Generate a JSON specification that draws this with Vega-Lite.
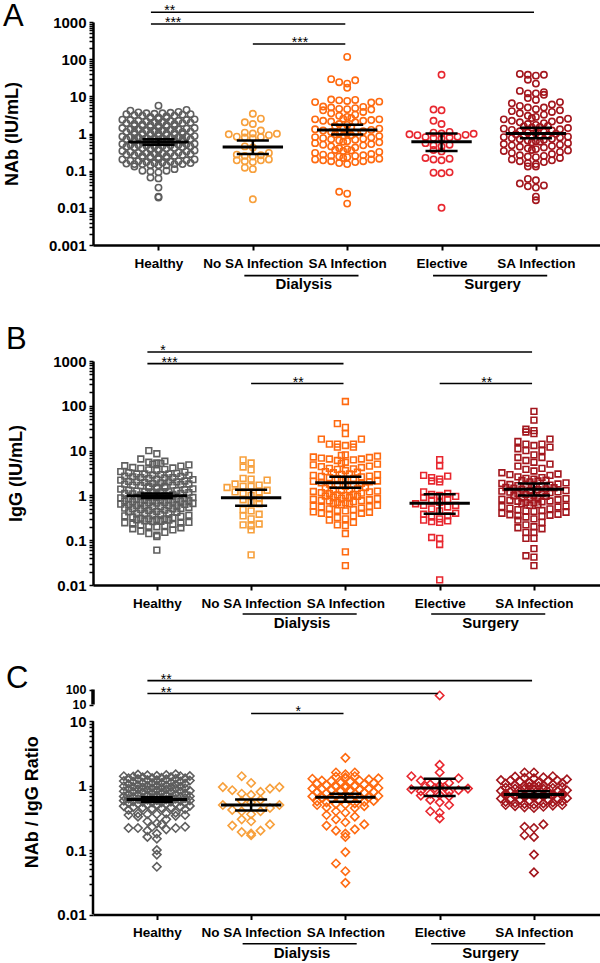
{
"$schema": "https://vega.github.io/schema/vega-lite/v6.json",
"padding": {"left": 2, "top": 1, "right": 0, "bottom": 0},
"spacing": 32,
"background": "white",
"datasets": {
"grp": [{"lab": "Dialysis", "a": 1, "b": 2}, {"lab": "Surgery", "a": 3, "b": 4}],
"sigA": [{"x1": 0, "x2": 4, "y": 1824, "s": "**"}, {"x1": 0, "x2": 2, "y": 884, "s": "***"}, {"x1": 1, "x2": 2, "y": 256, "s": "***"}],
"sigB": [{"x1": 0, "x2": 4, "y": 1587, "s": "*"}, {"x1": 0, "x2": 2, "y": 875, "s": "***"}, {"x1": 1, "x2": 2, "y": 314, "s": "**"}, {"x1": 3, "x2": 4, "y": 314, "s": "**"}],
"sigC": [{"x1": 0, "x2": 4, "y": 1.63, "s": "**"}, {"x1": 0, "x2": 3, "y": 1.43, "s": "**"}, {"x1": 1, "x2": 2, "y": 1.12, "s": "*"}],
"ebA": [{"g": 0, "m": 0.59, "lo": 0.5, "hi": 0.7}, {"g": 1, "m": 0.43, "lo": 0.28, "hi": 0.65}, {"g": 2, "m": 1.25, "lo": 0.94, "hi": 1.71}, {"g": 3, "m": 0.6, "lo": 0.34, "hi": 1.0}, {"g": 4, "m": 1.0, "lo": 0.74, "hi": 1.42}],
"ebB": [{"g": 0, "m": 0.98, "lo": 0.88, "hi": 1.1}, {"g": 1, "m": 0.89, "lo": 0.59, "hi": 1.33}, {"g": 2, "m": 1.92, "lo": 1.48, "hi": 2.6}, {"g": 3, "m": 0.67, "lo": 0.39, "hi": 1.06}, {"g": 4, "m": 1.37, "lo": 1.0, "hi": 1.85}],
"ebC": [{"g": 0, "m": 0.61, "lo": 0.56, "hi": 0.66}, {"g": 1, "m": 0.5, "lo": 0.41, "hi": 0.61}, {"g": 2, "m": 0.66, "lo": 0.56, "hi": 0.75}, {"g": 3, "m": 0.92, "lo": 0.69, "hi": 1.28}, {"g": 4, "m": 0.73, "lo": 0.66, "hi": 0.82}],
"ptsA": [
{"g":0,"v":5.6},{"g":0,"v":4.3},{"g":0,"v":4.1},{"g":0,"v":3.8},{"g":0,"v":3.7},{"g":0,"v":3.6},{"g":0,"v":3.5},{"g":0,"v":3.5},{"g":0,"v":3.4},{"g":0,"v":3.3},{"g":0,"v":3.3},{"g":0,"v":3.2},{"g":0,"v":3.1},{"g":0,"v":3.0},{"g":0,"v":3.0},{"g":0,"v":2.8},{"g":0,"v":2.7},{"g":0,"v":2.6},{"g":0,"v":2.5},{"g":0,"v":2.5},{"g":0,"v":2.4},{"g":0,"v":2.3},{"g":0,"v":2.3},{"g":0,"v":2.2},{"g":0,"v":2.1},{"g":0,"v":2.0},{"g":0,"v":2.0},{"g":0,"v":1.9},{"g":0,"v":1.8},{"g":0,"v":1.8},{"g":0,"v":1.7},{"g":0,"v":1.7},{"g":0,"v":1.6},{"g":0,"v":1.6},{"g":0,"v":1.5},{"g":0,"v":1.5},{"g":0,"v":1.4},{"g":0,"v":1.4},{"g":0,"v":1.35},{"g":0,"v":1.3},{"g":0,"v":1.3},{"g":0,"v":1.2},{"g":0,"v":1.2},{"g":0,"v":1.15},{"g":0,"v":1.1},{"g":0,"v":1.1},{"g":0,"v":1.05},{"g":0,"v":1.0},{"g":0,"v":1.0},{"g":0,"v":0.95},{"g":0,"v":0.92},{"g":0,"v":0.9},{"g":0,"v":0.88},{"g":0,"v":0.85},{"g":0,"v":0.82},{"g":0,"v":0.8},{"g":0,"v":0.78},{"g":0,"v":0.75},{"g":0,"v":0.72},{"g":0,"v":0.7},{"g":0,"v":0.68},{"g":0,"v":0.66},{"g":0,"v":0.64},{"g":0,"v":0.62},{"g":0,"v":0.6},{"g":0,"v":0.58},{"g":0,"v":0.56},{"g":0,"v":0.55},{"g":0,"v":0.54},{"g":0,"v":0.52},{"g":0,"v":0.5},{"g":0,"v":0.5},{"g":0,"v":0.48},{"g":0,"v":0.46},{"g":0,"v":0.45},{"g":0,"v":0.44},{"g":0,"v":0.42},{"g":0,"v":0.4},{"g":0,"v":0.4},{"g":0,"v":0.38},{"g":0,"v":0.36},{"g":0,"v":0.35},{"g":0,"v":0.34},{"g":0,"v":0.33},{"g":0,"v":0.32},{"g":0,"v":0.3},{"g":0,"v":0.3},{"g":0,"v":0.29},{"g":0,"v":0.28},{"g":0,"v":0.27},{"g":0,"v":0.26},{"g":0,"v":0.25},{"g":0,"v":0.24},{"g":0,"v":0.23},{"g":0,"v":0.22},{"g":0,"v":0.21},{"g":0,"v":0.2},{"g":0,"v":0.2},{"g":0,"v":0.19},{"g":0,"v":0.18},{"g":0,"v":0.18},{"g":0,"v":0.17},{"g":0,"v":0.16},{"g":0,"v":0.15},{"g":0,"v":0.15},{"g":0,"v":0.15},{"g":0,"v":0.14},{"g":0,"v":0.14},{"g":0,"v":0.14},{"g":0,"v":0.13},{"g":0,"v":0.16},{"g":0,"v":0.15},{"g":0,"v":0.1},{"g":0,"v":0.095},{"g":0,"v":0.09},{"g":0,"v":0.1},{"g":0,"v":0.11},{"g":0,"v":0.065},{"g":0,"v":0.062},{"g":0,"v":0.035},{"g":0,"v":0.02},{"g":0,"v":0.019},
{"g":0,"v":2.9},{"g":0,"v":2.65},{"g":0,"v":2.35},{"g":0,"v":2.15},{"g":0,"v":1.95},{"g":0,"v":1.75},{"g":0,"v":1.65},{"g":0,"v":1.55},{"g":0,"v":1.45},{"g":0,"v":1.25},{"g":0,"v":1.12},{"g":0,"v":1.08},{"g":0,"v":1.02},{"g":0,"v":0.97},{"g":0,"v":0.93},{"g":0,"v":0.87},{"g":0,"v":0.83},{"g":0,"v":0.77},{"g":0,"v":0.73},{"g":0,"v":0.69},{"g":0,"v":0.65},{"g":0,"v":0.61},{"g":0,"v":0.57},{"g":0,"v":0.53},{"g":0,"v":0.51},{"g":0,"v":0.49},{"g":0,"v":0.47},{"g":0,"v":0.43},{"g":0,"v":0.41},{"g":0,"v":0.39},{"g":0,"v":0.37},{"g":0,"v":0.31},{"g":0,"v":0.285},{"g":0,"v":0.265},{"g":0,"v":0.245},{"g":0,"v":0.225},{"g":0,"v":0.205},{"g":0,"v":0.185},{"g":0,"v":0.175},{"g":0,"v":0.165},{"g":0,"v":0.155},{"g":0,"v":1.9},{"g":0,"v":1.3},{"g":0,"v":0.9},{"g":0,"v":0.7},{"g":0,"v":0.6},{"g":0,"v":0.45},{"g":0,"v":0.35},{"g":0,"v":0.25},{"g":0,"v":0.22},{"g":0,"v":2.2},{"g":0,"v":1.6},{"g":0,"v":1.0},{"g":0,"v":0.8},{"g":0,"v":0.55},{"g":0,"v":0.3},
{"g":1,"v":3.4},{"g":1,"v":2.5},{"g":1,"v":2.0},{"g":1,"v":1.8},{"g":1,"v":1.2},{"g":1,"v":1.05},{"g":1,"v":1.0},{"g":1,"v":0.98},{"g":1,"v":0.95},{"g":1,"v":0.9},{"g":1,"v":0.82},{"g":1,"v":0.8},{"g":1,"v":0.78},{"g":1,"v":0.75},{"g":1,"v":0.45},{"g":1,"v":0.42},{"g":1,"v":0.3},{"g":1,"v":0.27},{"g":1,"v":0.26},{"g":1,"v":0.25},{"g":1,"v":0.24},{"g":1,"v":0.2},{"g":1,"v":0.19},{"g":1,"v":0.19},{"g":1,"v":0.18},{"g":1,"v":0.17},{"g":1,"v":0.12},{"g":1,"v":0.11},{"g":1,"v":0.017},
{"g":2,"v":115},{"g":2,"v":29},{"g":2,"v":27},{"g":2,"v":24},{"g":2,"v":22},{"g":2,"v":17},{"g":2,"v":8.2},{"g":2,"v":8},{"g":2,"v":7.8},{"g":2,"v":7.5},{"g":2,"v":7.2},{"g":2,"v":7},{"g":2,"v":6.8},{"g":2,"v":5.3},{"g":2,"v":5.2},{"g":2,"v":5},{"g":2,"v":4.8},{"g":2,"v":4.6},{"g":2,"v":4.5},{"g":2,"v":4.4},{"g":2,"v":4.2},{"g":2,"v":3.8},{"g":2,"v":3.5},{"g":2,"v":3.2},{"g":2,"v":3},{"g":2,"v":2.8},{"g":2,"v":2.6},{"g":2,"v":2.5},{"g":2,"v":2.4},{"g":2,"v":2.4},{"g":2,"v":2.3},{"g":2,"v":2.2},{"g":2,"v":2.2},{"g":2,"v":2.1},{"g":2,"v":2},{"g":2,"v":1.8},{"g":2,"v":1.7},{"g":2,"v":1.6},{"g":2,"v":1.5},{"g":2,"v":1.4},{"g":2,"v":1.35},{"g":2,"v":1.3},{"g":2,"v":1.25},{"g":2,"v":1.2},{"g":2,"v":1.15},{"g":2,"v":1.1},{"g":2,"v":1.05},{"g":2,"v":1},{"g":2,"v":1},{"g":2,"v":0.95},{"g":2,"v":0.9},{"g":2,"v":0.88},{"g":2,"v":0.85},{"g":2,"v":0.8},{"g":2,"v":0.78},{"g":2,"v":0.75},{"g":2,"v":0.72},{"g":2,"v":0.7},{"g":2,"v":0.68},{"g":2,"v":0.65},{"g":2,"v":0.62},{"g":2,"v":0.6},{"g":2,"v":0.58},{"g":2,"v":0.55},{"g":2,"v":0.52},{"g":2,"v":0.5},{"g":2,"v":0.48},{"g":2,"v":0.45},{"g":2,"v":0.42},{"g":2,"v":0.4},{"g":2,"v":0.38},{"g":2,"v":0.36},{"g":2,"v":0.35},{"g":2,"v":0.34},{"g":2,"v":0.32},{"g":2,"v":0.3},{"g":2,"v":0.28},{"g":2,"v":0.27},{"g":2,"v":0.26},{"g":2,"v":0.25},{"g":2,"v":0.25},{"g":2,"v":0.24},{"g":2,"v":0.23},{"g":2,"v":0.22},{"g":2,"v":0.21},{"g":2,"v":0.2},{"g":2,"v":0.2},{"g":2,"v":0.19},{"g":2,"v":0.18},{"g":2,"v":0.18},{"g":2,"v":0.17},{"g":2,"v":0.16},{"g":2,"v":0.15},{"g":2,"v":0.027},{"g":2,"v":0.024},{"g":2,"v":0.013},
{"g":3,"v":38},{"g":3,"v":4.4},{"g":3,"v":4.2},{"g":3,"v":2.2},{"g":3,"v":1.8},{"g":3,"v":1.1},{"g":3,"v":1.05},{"g":3,"v":1},{"g":3,"v":0.98},{"g":3,"v":0.95},{"g":3,"v":0.92},{"g":3,"v":0.9},{"g":3,"v":0.82},{"g":3,"v":0.8},{"g":3,"v":0.78},{"g":3,"v":0.76},{"g":3,"v":0.75},{"g":3,"v":0.55},{"g":3,"v":0.5},{"g":3,"v":0.48},{"g":3,"v":0.45},{"g":3,"v":0.36},{"g":3,"v":0.33},{"g":3,"v":0.22},{"g":3,"v":0.21},{"g":3,"v":0.2},{"g":3,"v":0.19},{"g":3,"v":0.09},{"g":3,"v":0.088},{"g":3,"v":0.085},{"g":3,"v":0.01},
{"g":4,"v":40},{"g":4,"v":38},{"g":4,"v":38},{"g":4,"v":36},{"g":4,"v":28},{"g":4,"v":22},{"g":4,"v":14},{"g":4,"v":13},{"g":4,"v":12},{"g":4,"v":12},{"g":4,"v":11},{"g":4,"v":9},{"g":4,"v":8},{"g":4,"v":7},{"g":4,"v":6.5},{"g":4,"v":6},{"g":4,"v":5.5},{"g":4,"v":5},{"g":4,"v":5},{"g":4,"v":4.5},{"g":4,"v":4.2},{"g":4,"v":4},{"g":4,"v":3.8},{"g":4,"v":3.5},{"g":4,"v":3.2},{"g":4,"v":3},{"g":4,"v":2.8},{"g":4,"v":2.6},{"g":4,"v":2.5},{"g":4,"v":2.4},{"g":4,"v":2.3},{"g":4,"v":2.2},{"g":4,"v":2.1},{"g":4,"v":2},{"g":4,"v":1.9},{"g":4,"v":1.8},{"g":4,"v":1.7},{"g":4,"v":1.6},{"g":4,"v":1.55},{"g":4,"v":1.5},{"g":4,"v":1.45},{"g":4,"v":1.4},{"g":4,"v":1.35},{"g":4,"v":1.3},{"g":4,"v":1.25},{"g":4,"v":1.2},{"g":4,"v":1.15},{"g":4,"v":1.1},{"g":4,"v":1.05},{"g":4,"v":1},{"g":4,"v":0.98},{"g":4,"v":0.95},{"g":4,"v":0.92},{"g":4,"v":0.9},{"g":4,"v":0.88},{"g":4,"v":0.85},{"g":4,"v":0.82},{"g":4,"v":0.8},{"g":4,"v":0.78},{"g":4,"v":0.75},{"g":4,"v":0.72},{"g":4,"v":0.7},{"g":4,"v":0.68},{"g":4,"v":0.65},{"g":4,"v":0.62},{"g":4,"v":0.6},{"g":4,"v":0.58},{"g":4,"v":0.55},{"g":4,"v":0.52},{"g":4,"v":0.5},{"g":4,"v":0.48},{"g":4,"v":0.46},{"g":4,"v":0.44},{"g":4,"v":0.42},{"g":4,"v":0.4},{"g":4,"v":0.38},{"g":4,"v":0.36},{"g":4,"v":0.35},{"g":4,"v":0.34},{"g":4,"v":0.32},{"g":4,"v":0.3},{"g":4,"v":0.28},{"g":4,"v":0.26},{"g":4,"v":0.25},{"g":4,"v":0.24},{"g":4,"v":0.23},{"g":4,"v":0.22},{"g":4,"v":0.2},{"g":4,"v":0.19},{"g":4,"v":0.18},{"g":4,"v":0.17},{"g":4,"v":0.16},{"g":4,"v":0.15},{"g":4,"v":0.13},{"g":4,"v":0.13},{"g":4,"v":0.06},{"g":4,"v":0.055},{"g":4,"v":0.045},{"g":4,"v":0.04},{"g":4,"v":0.038},{"g":4,"v":0.035},{"g":4,"v":0.02},{"g":4,"v":0.016}
],
"ptsB": [
{"g":0,"v":10},{"g":0,"v":8.5},{"g":0,"v":6.5},{"g":0,"v":5.8},{"g":0,"v":5.5},{"g":0,"v":5.3},{"g":0,"v":5.2},{"g":0,"v":5},{"g":0,"v":4.8},{"g":0,"v":4.5},{"g":0,"v":4.2},{"g":0,"v":4},{"g":0,"v":3.8},{"g":0,"v":3.6},{"g":0,"v":3.4},{"g":0,"v":3.2},{"g":0,"v":3},{"g":0,"v":3},{"g":0,"v":2.9},{"g":0,"v":2.8},{"g":0,"v":2.7},{"g":0,"v":2.6},{"g":0,"v":2.5},{"g":0,"v":2.4},{"g":0,"v":2.3},{"g":0,"v":2.2},{"g":0,"v":2.1},{"g":0,"v":2},{"g":0,"v":2},{"g":0,"v":1.9},{"g":0,"v":1.85},{"g":0,"v":1.8},{"g":0,"v":1.75},{"g":0,"v":1.7},{"g":0,"v":1.65},{"g":0,"v":1.6},{"g":0,"v":1.55},{"g":0,"v":1.5},{"g":0,"v":1.45},{"g":0,"v":1.4},{"g":0,"v":1.35},{"g":0,"v":1.3},{"g":0,"v":1.25},{"g":0,"v":1.2},{"g":0,"v":1.2},{"g":0,"v":1.15},{"g":0,"v":1.1},{"g":0,"v":1.05},{"g":0,"v":1},{"g":0,"v":1},{"g":0,"v":0.98},{"g":0,"v":0.95},{"g":0,"v":0.92},{"g":0,"v":0.9},{"g":0,"v":0.88},{"g":0,"v":0.85},{"g":0,"v":0.82},{"g":0,"v":0.8},{"g":0,"v":0.78},{"g":0,"v":0.76},{"g":0,"v":0.74},{"g":0,"v":0.72},{"g":0,"v":0.7},{"g":0,"v":0.68},{"g":0,"v":0.66},{"g":0,"v":0.64},{"g":0,"v":0.62},{"g":0,"v":0.6},{"g":0,"v":0.58},{"g":0,"v":0.56},{"g":0,"v":0.54},{"g":0,"v":0.52},{"g":0,"v":0.5},{"g":0,"v":0.48},{"g":0,"v":0.46},{"g":0,"v":0.44},{"g":0,"v":0.42},{"g":0,"v":0.4},{"g":0,"v":0.38},{"g":0,"v":0.36},{"g":0,"v":0.35},{"g":0,"v":0.34},{"g":0,"v":0.33},{"g":0,"v":0.32},{"g":0,"v":0.3},{"g":0,"v":0.29},{"g":0,"v":0.28},{"g":0,"v":0.27},{"g":0,"v":0.26},{"g":0,"v":0.25},{"g":0,"v":0.24},{"g":0,"v":0.23},{"g":0,"v":0.22},{"g":0,"v":0.21},{"g":0,"v":0.2},{"g":0,"v":0.19},{"g":0,"v":0.18},{"g":0,"v":0.17},{"g":0,"v":0.16},{"g":0,"v":0.15},{"g":0,"v":0.14},{"g":0,"v":0.13},{"g":0,"v":0.12},{"g":0,"v":0.06},
{"g":0,"v":4.6},{"g":0,"v":4.1},{"g":0,"v":3.7},{"g":0,"v":3.3},{"g":0,"v":3.1},{"g":0,"v":2.85},{"g":0,"v":2.65},{"g":0,"v":2.45},{"g":0,"v":2.25},{"g":0,"v":2.05},{"g":0,"v":1.95},{"g":0,"v":1.78},{"g":0,"v":1.62},{"g":0,"v":1.48},{"g":0,"v":1.38},{"g":0,"v":1.28},{"g":0,"v":1.18},{"g":0,"v":1.08},{"g":0,"v":1.02},{"g":0,"v":0.96},{"g":0,"v":0.93},{"g":0,"v":0.87},{"g":0,"v":0.83},{"g":0,"v":0.79},{"g":0,"v":0.75},{"g":0,"v":0.71},{"g":0,"v":0.67},{"g":0,"v":0.63},{"g":0,"v":0.59},{"g":0,"v":0.55},{"g":0,"v":0.51},{"g":0,"v":0.47},{"g":0,"v":0.43},{"g":0,"v":0.39},{"g":0,"v":0.37},{"g":0,"v":0.31},{"g":0,"v":0.285},{"g":0,"v":0.265},{"g":0,"v":0.245},{"g":0,"v":0.225},{"g":0,"v":0.205},{"g":0,"v":2.5},{"g":0,"v":2.0},{"g":0,"v":1.5},{"g":0,"v":1.2},{"g":0,"v":1.0},{"g":0,"v":0.8},{"g":0,"v":0.6},{"g":0,"v":0.5},{"g":0,"v":0.4},{"g":0,"v":0.3},{"g":0,"v":3.0},{"g":0,"v":1.7},{"g":0,"v":1.1},{"g":0,"v":0.9},{"g":0,"v":0.7},
{"g":1,"v":6.2},{"g":1,"v":5.3},{"g":1,"v":4.3},{"g":1,"v":3.7},{"g":1,"v":2.4},{"g":1,"v":2.3},{"g":1,"v":2.2},{"g":1,"v":1.8},{"g":1,"v":1.7},{"g":1,"v":1.6},{"g":1,"v":1.6},{"g":1,"v":1.5},{"g":1,"v":1.3},{"g":1,"v":1.2},{"g":1,"v":1.2},{"g":1,"v":1.1},{"g":1,"v":1},{"g":1,"v":0.85},{"g":1,"v":0.8},{"g":1,"v":0.7},{"g":1,"v":0.65},{"g":1,"v":0.48},{"g":1,"v":0.45},{"g":1,"v":0.38},{"g":1,"v":0.35},{"g":1,"v":0.3},{"g":1,"v":0.23},{"g":1,"v":0.22},{"g":1,"v":0.21},{"g":1,"v":0.17},{"g":1,"v":0.047},
{"g":2,"v":125},{"g":2,"v":40},{"g":2,"v":33},{"g":2,"v":24},{"g":2,"v":18},{"g":2,"v":18},{"g":2,"v":14},{"g":2,"v":14},{"g":2,"v":14},{"g":2,"v":13},{"g":2,"v":12},{"g":2,"v":12},{"g":2,"v":8},{"g":2,"v":7.5},{"g":2,"v":7.2},{"g":2,"v":7},{"g":2,"v":6.8},{"g":2,"v":6.5},{"g":2,"v":6.5},{"g":2,"v":6},{"g":2,"v":5.5},{"g":2,"v":5},{"g":2,"v":4.8},{"g":2,"v":4.5},{"g":2,"v":4.2},{"g":2,"v":4},{"g":2,"v":3.8},{"g":2,"v":3.6},{"g":2,"v":3.4},{"g":2,"v":3.2},{"g":2,"v":3},{"g":2,"v":2.9},{"g":2,"v":2.8},{"g":2,"v":2.7},{"g":2,"v":2.6},{"g":2,"v":2.5},{"g":2,"v":2.4},{"g":2,"v":2.3},{"g":2,"v":2.2},{"g":2,"v":2.1},{"g":2,"v":2},{"g":2,"v":1.9},{"g":2,"v":1.8},{"g":2,"v":1.7},{"g":2,"v":1.6},{"g":2,"v":1.5},{"g":2,"v":1.4},{"g":2,"v":1.35},{"g":2,"v":1.3},{"g":2,"v":1.25},{"g":2,"v":1.2},{"g":2,"v":1.15},{"g":2,"v":1.1},{"g":2,"v":1.05},{"g":2,"v":1},{"g":2,"v":0.95},{"g":2,"v":0.9},{"g":2,"v":0.85},{"g":2,"v":0.8},{"g":2,"v":0.78},{"g":2,"v":0.75},{"g":2,"v":0.72},{"g":2,"v":0.7},{"g":2,"v":0.68},{"g":2,"v":0.65},{"g":2,"v":0.6},{"g":2,"v":0.58},{"g":2,"v":0.55},{"g":2,"v":0.5},{"g":2,"v":0.48},{"g":2,"v":0.45},{"g":2,"v":0.42},{"g":2,"v":0.4},{"g":2,"v":0.4},{"g":2,"v":0.38},{"g":2,"v":0.35},{"g":2,"v":0.32},{"g":2,"v":0.3},{"g":2,"v":0.28},{"g":2,"v":0.25},{"g":2,"v":0.22},{"g":2,"v":0.21},{"g":2,"v":0.14},{"g":2,"v":0.055},{"g":2,"v":0.027},
{"g":2,"v":7.8},{"g":2,"v":6.2},{"g":2,"v":5.2},{"g":2,"v":4.4},{"g":2,"v":3.9},{"g":2,"v":3.3},{"g":2,"v":2.95},{"g":2,"v":2.65},{"g":2,"v":2.35},{"g":2,"v":2.05},{"g":2,"v":1.85},{"g":2,"v":1.65},{"g":2,"v":1.45},{"g":2,"v":1.32},{"g":2,"v":1.22},{"g":2,"v":1.12},{"g":2,"v":1.02},{"g":2,"v":0.97},{"g":2,"v":0.92},{"g":2,"v":0.87},{"g":2,"v":0.82},{"g":2,"v":0.76},{"g":2,"v":0.66},{"g":2,"v":0.62},{"g":2,"v":0.56},{"g":2,"v":0.52},{"g":2,"v":0.46},{"g":2,"v":0.43},
{"g":3,"v":6.3},{"g":3,"v":4.6},{"g":3,"v":2.8},{"g":3,"v":2.7},{"g":3,"v":2.5},{"g":3,"v":2.3},{"g":3,"v":2.1},{"g":3,"v":2},{"g":3,"v":1.2},{"g":3,"v":1.1},{"g":3,"v":1.05},{"g":3,"v":1},{"g":3,"v":0.95},{"g":3,"v":0.9},{"g":3,"v":0.8},{"g":3,"v":0.75},{"g":3,"v":0.7},{"g":3,"v":0.65},{"g":3,"v":0.6},{"g":3,"v":0.6},{"g":3,"v":0.55},{"g":3,"v":0.5},{"g":3,"v":0.45},{"g":3,"v":0.4},{"g":3,"v":0.38},{"g":3,"v":0.35},{"g":3,"v":0.33},{"g":3,"v":0.3},{"g":3,"v":0.28},{"g":3,"v":0.27},{"g":3,"v":0.26},{"g":3,"v":0.25},{"g":3,"v":0.115},{"g":3,"v":0.11},{"g":3,"v":0.08},{"g":3,"v":0.013},
{"g":4,"v":75},{"g":4,"v":48},{"g":4,"v":30},{"g":4,"v":28},{"g":4,"v":26},{"g":4,"v":24},{"g":4,"v":18},{"g":4,"v":16},{"g":4,"v":14},{"g":4,"v":14},{"g":4,"v":13},{"g":4,"v":12},{"g":4,"v":11},{"g":4,"v":10},{"g":4,"v":10},{"g":4,"v":8},{"g":4,"v":7},{"g":4,"v":7},{"g":4,"v":6},{"g":4,"v":5.5},{"g":4,"v":5},{"g":4,"v":4.5},{"g":4,"v":4},{"g":4,"v":3.8},{"g":4,"v":3.5},{"g":4,"v":3.2},{"g":4,"v":3},{"g":4,"v":2.8},{"g":4,"v":2.6},{"g":4,"v":2.4},{"g":4,"v":2.3},{"g":4,"v":2.2},{"g":4,"v":2.1},{"g":4,"v":2},{"g":4,"v":1.9},{"g":4,"v":1.8},{"g":4,"v":1.75},{"g":4,"v":1.7},{"g":4,"v":1.65},{"g":4,"v":1.6},{"g":4,"v":1.55},{"g":4,"v":1.5},{"g":4,"v":1.45},{"g":4,"v":1.4},{"g":4,"v":1.35},{"g":4,"v":1.3},{"g":4,"v":1.25},{"g":4,"v":1.2},{"g":4,"v":1.15},{"g":4,"v":1.1},{"g":4,"v":1.05},{"g":4,"v":1},{"g":4,"v":0.95},{"g":4,"v":0.9},{"g":4,"v":0.85},{"g":4,"v":0.8},{"g":4,"v":0.78},{"g":4,"v":0.75},{"g":4,"v":0.72},{"g":4,"v":0.7},{"g":4,"v":0.65},{"g":4,"v":0.6},{"g":4,"v":0.58},{"g":4,"v":0.55},{"g":4,"v":0.5},{"g":4,"v":0.48},{"g":4,"v":0.45},{"g":4,"v":0.42},{"g":4,"v":0.4},{"g":4,"v":0.38},{"g":4,"v":0.36},{"g":4,"v":0.35},{"g":4,"v":0.33},{"g":4,"v":0.3},{"g":4,"v":0.28},{"g":4,"v":0.25},{"g":4,"v":0.22},{"g":4,"v":0.2},{"g":4,"v":0.19},{"g":4,"v":0.18},{"g":4,"v":0.15},{"g":4,"v":0.15},{"g":4,"v":0.11},{"g":4,"v":0.11},{"g":4,"v":0.065},{"g":4,"v":0.045},{"g":4,"v":0.042},{"g":4,"v":0.027},
{"g":4,"v":2.9},{"g":4,"v":2.5},{"g":4,"v":2.15},{"g":4,"v":1.85},{"g":4,"v":1.62},{"g":4,"v":1.48},{"g":4,"v":1.38},{"g":4,"v":1.28},{"g":4,"v":1.18},{"g":4,"v":1.08},{"g":4,"v":0.98},{"g":4,"v":0.92},{"g":4,"v":0.87},{"g":4,"v":0.82},{"g":4,"v":0.74},{"g":4,"v":0.68},{"g":4,"v":0.62},{"g":4,"v":0.56},{"g":4,"v":0.52},{"g":4,"v":0.46},{"g":4,"v":0.44},{"g":4,"v":0.37},{"g":4,"v":0.34}
],
"ptsC": [
{"g":0,"v":1.5},{"g":0,"v":1.48},{"g":0,"v":1.45},{"g":0,"v":1.42},{"g":0,"v":1.4},{"g":0,"v":1.4},{"g":0,"v":1.38},{"g":0,"v":1.35},{"g":0,"v":1.32},{"g":0,"v":1.3},{"g":0,"v":1.28},{"g":0,"v":1.25},{"g":0,"v":1.22},{"g":0,"v":1.2},{"g":0,"v":1.18},{"g":0,"v":1.15},{"g":0,"v":1.12},{"g":0,"v":1.1},{"g":0,"v":1.08},{"g":0,"v":1.05},{"g":0,"v":1.02},{"g":0,"v":1},{"g":0,"v":0.98},{"g":0,"v":0.96},{"g":0,"v":0.95},{"g":0,"v":0.93},{"g":0,"v":0.92},{"g":0,"v":0.9},{"g":0,"v":0.88},{"g":0,"v":0.86},{"g":0,"v":0.85},{"g":0,"v":0.83},{"g":0,"v":0.82},{"g":0,"v":0.8},{"g":0,"v":0.79},{"g":0,"v":0.78},{"g":0,"v":0.76},{"g":0,"v":0.75},{"g":0,"v":0.74},{"g":0,"v":0.72},{"g":0,"v":0.71},{"g":0,"v":0.7},{"g":0,"v":0.69},{"g":0,"v":0.68},{"g":0,"v":0.67},{"g":0,"v":0.66},{"g":0,"v":0.65},{"g":0,"v":0.64},{"g":0,"v":0.63},{"g":0,"v":0.62},{"g":0,"v":0.61},{"g":0,"v":0.6},{"g":0,"v":0.59},{"g":0,"v":0.58},{"g":0,"v":0.57},{"g":0,"v":0.56},{"g":0,"v":0.55},{"g":0,"v":0.54},{"g":0,"v":0.53},{"g":0,"v":0.52},{"g":0,"v":0.51},{"g":0,"v":0.5},{"g":0,"v":0.49},{"g":0,"v":0.48},{"g":0,"v":0.47},{"g":0,"v":0.46},{"g":0,"v":0.45},{"g":0,"v":0.44},{"g":0,"v":0.43},{"g":0,"v":0.42},{"g":0,"v":0.38},{"g":0,"v":0.37},{"g":0,"v":0.37},{"g":0,"v":0.36},{"g":0,"v":0.36},{"g":0,"v":0.35},{"g":0,"v":0.35},{"g":0,"v":0.34},{"g":0,"v":0.33},{"g":0,"v":0.3},{"g":0,"v":0.28},{"g":0,"v":0.26},{"g":0,"v":0.25},{"g":0,"v":0.23},{"g":0,"v":0.23},{"g":0,"v":0.22},{"g":0,"v":0.22},{"g":0,"v":0.22},{"g":0,"v":0.21},{"g":0,"v":0.2},{"g":0,"v":0.18},{"g":0,"v":0.16},{"g":0,"v":0.15},{"g":0,"v":0.1},{"g":0,"v":0.085},{"g":0,"v":0.055},
{"g":0,"v":1.46},{"g":0,"v":1.41},{"g":0,"v":1.36},{"g":0,"v":1.31},{"g":0,"v":1.26},{"g":0,"v":1.21},{"g":0,"v":1.16},{"g":0,"v":1.11},{"g":0,"v":1.06},{"g":0,"v":1.01},{"g":0,"v":0.97},{"g":0,"v":0.94},{"g":0,"v":0.91},{"g":0,"v":0.87},{"g":0,"v":0.84},{"g":0,"v":0.81},{"g":0,"v":0.77},{"g":0,"v":0.73},{"g":0,"v":0.705},{"g":0,"v":0.685},{"g":0,"v":0.665},{"g":0,"v":0.645},{"g":0,"v":0.625},{"g":0,"v":0.605},{"g":0,"v":0.585},{"g":0,"v":0.565},{"g":0,"v":0.545},{"g":0,"v":0.525},{"g":0,"v":0.505},{"g":0,"v":0.485},{"g":0,"v":0.465},{"g":0,"v":0.455},{"g":0,"v":1.2},{"g":0,"v":1.0},{"g":0,"v":0.9},{"g":0,"v":0.8},{"g":0,"v":0.7},{"g":0,"v":0.6},{"g":0,"v":0.5},{"g":0,"v":1.3},{"g":0,"v":1.1},{"g":0,"v":0.75},{"g":0,"v":0.65},{"g":0,"v":0.55},
{"g":1,"v":1.4},{"g":1,"v":1.1},{"g":1,"v":0.95},{"g":1,"v":0.95},{"g":1,"v":0.9},{"g":1,"v":0.85},{"g":1,"v":0.8},{"g":1,"v":0.75},{"g":1,"v":0.72},{"g":1,"v":0.6},{"g":1,"v":0.58},{"g":1,"v":0.55},{"g":1,"v":0.5},{"g":1,"v":0.5},{"g":1,"v":0.45},{"g":1,"v":0.42},{"g":1,"v":0.4},{"g":1,"v":0.4},{"g":1,"v":0.36},{"g":1,"v":0.3},{"g":1,"v":0.28},{"g":1,"v":0.25},{"g":1,"v":0.24},{"g":1,"v":0.2},{"g":1,"v":0.19},{"g":1,"v":0.18},{"g":1,"v":0.17},
{"g":2,"v":2.7},{"g":2,"v":1.6},{"g":2,"v":1.6},{"g":2,"v":1.5},{"g":2,"v":1.4},{"g":2,"v":1.35},{"g":2,"v":1.3},{"g":2,"v":1.3},{"g":2,"v":1.25},{"g":2,"v":1.2},{"g":2,"v":1.2},{"g":2,"v":1.15},{"g":2,"v":1.1},{"g":2,"v":1.1},{"g":2,"v":1.05},{"g":2,"v":1},{"g":2,"v":1},{"g":2,"v":0.98},{"g":2,"v":0.95},{"g":2,"v":0.92},{"g":2,"v":0.9},{"g":2,"v":0.88},{"g":2,"v":0.85},{"g":2,"v":0.82},{"g":2,"v":0.8},{"g":2,"v":0.78},{"g":2,"v":0.75},{"g":2,"v":0.72},{"g":2,"v":0.7},{"g":2,"v":0.68},{"g":2,"v":0.66},{"g":2,"v":0.64},{"g":2,"v":0.62},{"g":2,"v":0.6},{"g":2,"v":0.58},{"g":2,"v":0.56},{"g":2,"v":0.55},{"g":2,"v":0.52},{"g":2,"v":0.5},{"g":2,"v":0.48},{"g":2,"v":0.46},{"g":2,"v":0.45},{"g":2,"v":0.4},{"g":2,"v":0.38},{"g":2,"v":0.35},{"g":2,"v":0.33},{"g":2,"v":0.3},{"g":2,"v":0.27},{"g":2,"v":0.25},{"g":2,"v":0.24},{"g":2,"v":0.21},{"g":2,"v":0.2},{"g":2,"v":0.18},{"g":2,"v":0.16},{"g":2,"v":0.093},{"g":2,"v":0.062},{"g":2,"v":0.047},{"g":2,"v":0.031},
{"g":2,"v":1.38},{"g":2,"v":1.28},{"g":2,"v":1.18},{"g":2,"v":1.08},{"g":2,"v":1.02},{"g":2,"v":0.97},{"g":2,"v":0.93},{"g":2,"v":0.87},{"g":2,"v":0.83},{"g":2,"v":0.77},{"g":2,"v":0.73},{"g":2,"v":0.69},{"g":2,"v":0.65},{"g":2,"v":0.61},{"g":2,"v":0.57},{"g":2,"v":0.53},{"g":2,"v":0.51},{"g":2,"v":1.0},{"g":2,"v":0.9},{"g":2,"v":0.8},
{"g":3,"v":40},{"g":3,"v":2.1},{"g":3,"v":1.6},{"g":3,"v":1.4},{"g":3,"v":1.3},{"g":3,"v":1.2},{"g":3,"v":1.1},{"g":3,"v":1.05},{"g":3,"v":1},{"g":3,"v":0.98},{"g":3,"v":0.95},{"g":3,"v":0.92},{"g":3,"v":0.9},{"g":3,"v":0.88},{"g":3,"v":0.85},{"g":3,"v":0.82},{"g":3,"v":0.8},{"g":3,"v":0.75},{"g":3,"v":0.72},{"g":3,"v":0.7},{"g":3,"v":0.68},{"g":3,"v":0.6},{"g":3,"v":0.55},{"g":3,"v":0.5},{"g":3,"v":0.4},{"g":3,"v":0.38},{"g":3,"v":0.31},
{"g":4,"v":1.6},{"g":4,"v":1.6},{"g":4,"v":1.4},{"g":4,"v":1.35},{"g":4,"v":1.3},{"g":4,"v":1.25},{"g":4,"v":1.2},{"g":4,"v":1.2},{"g":4,"v":1.15},{"g":4,"v":1.1},{"g":4,"v":1.1},{"g":4,"v":1.05},{"g":4,"v":1},{"g":4,"v":1},{"g":4,"v":0.98},{"g":4,"v":0.95},{"g":4,"v":0.92},{"g":4,"v":0.9},{"g":4,"v":0.9},{"g":4,"v":0.88},{"g":4,"v":0.85},{"g":4,"v":0.82},{"g":4,"v":0.8},{"g":4,"v":0.8},{"g":4,"v":0.78},{"g":4,"v":0.76},{"g":4,"v":0.75},{"g":4,"v":0.74},{"g":4,"v":0.72},{"g":4,"v":0.7},{"g":4,"v":0.7},{"g":4,"v":0.68},{"g":4,"v":0.66},{"g":4,"v":0.65},{"g":4,"v":0.64},{"g":4,"v":0.62},{"g":4,"v":0.6},{"g":4,"v":0.6},{"g":4,"v":0.58},{"g":4,"v":0.56},{"g":4,"v":0.55},{"g":4,"v":0.54},{"g":4,"v":0.52},{"g":4,"v":0.5},{"g":4,"v":0.5},{"g":4,"v":0.48},{"g":4,"v":0.46},{"g":4,"v":0.45},{"g":4,"v":0.25},{"g":4,"v":0.23},{"g":4,"v":0.22},{"g":4,"v":0.17},{"g":4,"v":0.16},{"g":4,"v":0.085},{"g":4,"v":0.045},
{"g":4,"v":1.38},{"g":4,"v":1.32},{"g":4,"v":1.28},{"g":4,"v":1.22},{"g":4,"v":1.18},{"g":4,"v":1.12},{"g":4,"v":1.08},{"g":4,"v":1.02},{"g":4,"v":0.97},{"g":4,"v":0.93},{"g":4,"v":0.87},{"g":4,"v":0.83},{"g":4,"v":0.79},{"g":4,"v":0.77},{"g":4,"v":0.73},{"g":4,"v":0.71},{"g":4,"v":0.69},{"g":4,"v":0.67},{"g":4,"v":0.63},{"g":4,"v":0.61},{"g":4,"v":0.57},{"g":4,"v":0.53},{"g":4,"v":0.51},{"g":4,"v":0.49},{"g":4,"v":0.47},{"g":4,"v":1.0},{"g":4,"v":0.9},{"g":4,"v":0.8},{"g":4,"v":0.7},{"g":4,"v":0.6}
]
},
"vconcat": [
{
"width": 508, "height": 223,
"layer": [
{"data": {"name": "ptsA"},
 "transform": [
  {"calculate": "log(datum.v)/LN10", "as": "lv"},
  {"calculate": "floor(datum.lv/0.215)", "as": "bn"},
  {"window": [{"op": "row_number", "as": "r"}], "groupby": ["g", "bn"], "sort": [{"field": "v", "order": "ascending"}]},
  {"calculate": "ceil((datum.r - 1)/2)", "as": "m"},
  {"calculate": "datum.g + ((datum.r - 1) % 2 == 0 ? 1 : -1) * ((datum.m % 5) + (floor(datum.m / 5) % 2) * 0.5) * 0.085", "as": "xo"}
 ],
 "mark": {"type": "point", "shape": "circle", "filled": false, "size": 40, "strokeWidth": 1.6, "opacity": 1},
 "encoding": {
  "x": {"field": "xo", "type": "quantitative", "scale": {"domain": [-0.694, 4.69], "nice": false, "zero": false},
   "axis": {"title": null, "values": [0,1,2,3,4], "labelExpr": "['Healthy','No SA Infection','SA Infection','Elective','SA Infection'][datum.value]", "labelFontSize": 13.5, "labelFontWeight": "bold", "labelPadding": 6, "tickSize": 5, "tickWidth": 2, "domainWidth": 2.5, "labelOverlap": false, "labelFlush": false, "grid": false}},
  "y": {"field": "v", "type": "quantitative", "scale": {"type": "log", "domain": [0.001, 1000], "nice": false},
   "axis": {"title": "NAb (IU/mL)", "titleFontSize": 18, "titleFontWeight": "bold", "titlePadding": 27, "tickCount": 100, "values": [0.001,0.002,0.003,0.004,0.005,0.006,0.007,0.008,0.009,0.01,0.02,0.03,0.04,0.05,0.06,0.07,0.08,0.09,0.1,0.2,0.3,0.4,0.5,0.6,0.7,0.8,0.9,1,2,3,4,5,6,7,8,9,10,20,30,40,50,60,70,80,90,100,200,300,400,500,600,700,800,900,1000], "labelExpr": "abs(log(datum.value)/LN10 - round(log(datum.value)/LN10)) < 0.001 ? format(datum.value, '~g') : ''", "labelOverlap": false, "labelFontSize": 15, "labelFontWeight": "bold", "labelPadding": 3, "tickSize": 4, "tickWidth": 1.5, "domainWidth": 2.5, "minExtent": 45, "maxExtent": 45, "grid": false}},
  "color": {"field": "g", "type": "nominal", "scale": {"domain": [0,1,2,3,4], "range": ["#5e5e5e", "#f7a03c", "#ff6a10", "#e8272f", "#a3161d"]}, "legend": null}
 }
},
{"data": {"name": "ebA"},
 "transform": [{"calculate": "datum.g - 0.32", "as": "xl"}, {"calculate": "datum.g + 0.32", "as": "xr"}],
 "mark": {"type": "rule", "strokeWidth": 3, "color": "black"},
 "encoding": {"x": {"field": "xl", "type": "quantitative"}, "x2": {"field": "xr"}, "y": {"field": "m", "type": "quantitative"}}
},
{"data": {"name": "ebA"},
 "mark": {"type": "rule", "strokeWidth": 2.5, "color": "black"},
 "encoding": {"x": {"field": "g", "type": "quantitative"}, "y": {"field": "lo", "type": "quantitative"}, "y2": {"field": "hi"}}
},
{"data": {"name": "ebA"},
 "transform": [{"fold": ["lo", "hi"], "as": ["k", "cv"]}, {"calculate": "datum.g - 0.17", "as": "cl"}, {"calculate": "datum.g + 0.17", "as": "cr"}],
 "mark": {"type": "rule", "strokeWidth": 2.5, "color": "black"},
 "encoding": {"x": {"field": "cl", "type": "quantitative"}, "x2": {"field": "cr"}, "y": {"field": "cv", "type": "quantitative"}}
},
{"data": {"name": "sigA"},
 "transform": [
  {"calculate": "datum.x1 == 0 ? -0.08 : datum.x1", "as": "lx1"},
  {"calculate": "datum.x2 - 0.02", "as": "lx2"},
  {"calculate": "datum.x2 - datum.x1 > 1 ? datum.lx1 + 0.13 + 0.035 * length(datum.s) : (datum.x1 + datum.x2) / 2", "as": "sx"}
 ],
 "layer": [
  {"mark": {"type": "rule", "strokeWidth": 1.6, "color": "black"}, "encoding": {"x": {"field": "lx1", "type": "quantitative"}, "x2": {"field": "lx2"}, "y": {"field": "y", "type": "quantitative"}}},
  {"mark": {"type": "text", "fontSize": 14, "baseline": "alphabetic", "dy": 3, "align": "center", "color": "black"}, "encoding": {"x": {"field": "sx", "type": "quantitative"}, "y": {"field": "y", "type": "quantitative"}, "text": {"field": "s"}}}
 ]
},
{"data": {"name": "grp"},
 "transform": [{"calculate": "datum.a - 0.09", "as": "rx1"}, {"calculate": "datum.b + 0.12", "as": "rx2"}, {"calculate": "(datum.a + datum.b)/2 + 0.04", "as": "tx"}],
 "layer": [
  {"mark": {"type": "rule", "strokeWidth": 1.6, "color": "black"}, "encoding": {"x": {"field": "rx1", "type": "quantitative"}, "x2": {"field": "rx2"}, "y": {"datum": 0.0001496}}},
  {"mark": {"type": "text", "fontSize": 15, "fontWeight": "bold", "baseline": "middle", "align": "center", "color": "black"}, "encoding": {"x": {"field": "tx", "type": "quantitative"}, "y": {"datum": 0.0000895}, "text": {"field": "lab"}}}
 ]
},
{"data": {"values": [{}]},
 "mark": {"type": "text", "fontSize": 31, "align": "left", "baseline": "top", "color": "black"},
 "encoding": {"x": {"datum": -1.648}, "y": {"datum": 3381}, "text": {"value": "A"}}
}
]
},
{
"width": 511, "height": 224,
"layer": [
{"data": {"name": "ptsB"},
 "transform": [
  {"calculate": "log(datum.v)/LN10", "as": "lv"},
  {"calculate": "floor(datum.lv/0.18)", "as": "bn"},
  {"window": [{"op": "row_number", "as": "r"}], "groupby": ["g", "bn"], "sort": [{"field": "v", "order": "ascending"}]},
  {"calculate": "ceil((datum.r - 1)/2)", "as": "m"},
  {"calculate": "datum.g + ((datum.r - 1) % 2 == 0 ? 1 : -1) * ((datum.m % 5) + (floor(datum.m / 5) % 2) * 0.5) * 0.085", "as": "xo"}
 ],
 "mark": {"type": "point", "shape": "square", "filled": false, "size": 33, "strokeWidth": 1.6, "opacity": 1},
 "encoding": {
  "x": {"field": "xo", "type": "quantitative", "scale": {"domain": [-0.677, 4.743], "nice": false, "zero": false},
   "axis": {"title": null, "values": [0,1,2,3,4], "labelExpr": "['Healthy','No SA Infection','SA Infection','Elective','SA Infection'][datum.value]", "labelFontSize": 13.5, "labelFontWeight": "bold", "labelPadding": 6, "tickSize": 5, "tickWidth": 2, "domainWidth": 2.5, "labelOverlap": false, "labelFlush": false, "grid": false}},
  "y": {"field": "v", "type": "quantitative", "scale": {"type": "log", "domain": [0.01, 1000], "nice": false},
   "axis": {"title": "IgG (IU/mL)", "titleFontSize": 18, "titleFontWeight": "bold", "titlePadding": 27, "tickCount": 100, "values": [0.01,0.02,0.03,0.04,0.05,0.06,0.07,0.08,0.09,0.1,0.2,0.3,0.4,0.5,0.6,0.7,0.8,0.9,1,2,3,4,5,6,7,8,9,10,20,30,40,50,60,70,80,90,100,200,300,400,500,600,700,800,900,1000], "labelExpr": "abs(log(datum.value)/LN10 - round(log(datum.value)/LN10)) < 0.001 ? format(datum.value, '~g') : ''", "labelOverlap": false, "labelFontSize": 15, "labelFontWeight": "bold", "labelPadding": 3, "tickSize": 4, "tickWidth": 1.5, "domainWidth": 2.5, "minExtent": 41, "maxExtent": 41, "grid": false}},
  "color": {"field": "g", "type": "nominal", "scale": {"domain": [0,1,2,3,4], "range": ["#5e5e5e", "#f7a03c", "#ff6a10", "#e8272f", "#a3161d"]}, "legend": null}
 }
},
{"data": {"name": "ebB"},
 "transform": [{"calculate": "datum.g - 0.32", "as": "xl"}, {"calculate": "datum.g + 0.32", "as": "xr"}],
 "mark": {"type": "rule", "strokeWidth": 3, "color": "black"},
 "encoding": {"x": {"field": "xl", "type": "quantitative"}, "x2": {"field": "xr"}, "y": {"field": "m", "type": "quantitative"}}
},
{"data": {"name": "ebB"},
 "mark": {"type": "rule", "strokeWidth": 2.5, "color": "black"},
 "encoding": {"x": {"field": "g", "type": "quantitative"}, "y": {"field": "lo", "type": "quantitative"}, "y2": {"field": "hi"}}
},
{"data": {"name": "ebB"},
 "transform": [{"fold": ["lo", "hi"], "as": ["k", "cv"]}, {"calculate": "datum.g - 0.17", "as": "cl"}, {"calculate": "datum.g + 0.17", "as": "cr"}],
 "mark": {"type": "rule", "strokeWidth": 2.5, "color": "black"},
 "encoding": {"x": {"field": "cl", "type": "quantitative"}, "x2": {"field": "cr"}, "y": {"field": "cv", "type": "quantitative"}}
},
{"data": {"name": "sigB"},
 "transform": [
  {"calculate": "datum.x1 == 0 ? -0.1 : datum.x1", "as": "lx1"},
  {"calculate": "datum.x2 - 0.02", "as": "lx2"},
  {"calculate": "datum.x2 - datum.x1 > 1 ? datum.lx1 + 0.13 + 0.035 * length(datum.s) : (datum.x1 + datum.x2) / 2", "as": "sx"}
 ],
 "layer": [
  {"mark": {"type": "rule", "strokeWidth": 1.6, "color": "black"}, "encoding": {"x": {"field": "lx1", "type": "quantitative"}, "x2": {"field": "lx2"}, "y": {"field": "y", "type": "quantitative"}}},
  {"mark": {"type": "text", "fontSize": 14, "baseline": "alphabetic", "dy": 3, "align": "center", "color": "black"}, "encoding": {"x": {"field": "sx", "type": "quantitative"}, "y": {"field": "y", "type": "quantitative"}, "text": {"field": "s"}}}
 ]
},
{"data": {"name": "grp"},
 "transform": [{"calculate": "datum.a - 0.09", "as": "rx1"}, {"calculate": "datum.b + 0.12", "as": "rx2"}, {"calculate": "(datum.a + datum.b)/2 + 0.04", "as": "tx"}],
 "layer": [
  {"mark": {"type": "rule", "strokeWidth": 1.6, "color": "black"}, "encoding": {"x": {"field": "rx1", "type": "quantitative"}, "x2": {"field": "rx2"}, "y": {"datum": 0.00226}}},
  {"mark": {"type": "text", "fontSize": 15, "fontWeight": "bold", "baseline": "middle", "align": "center", "color": "black"}, "encoding": {"x": {"field": "tx", "type": "quantitative"}, "y": {"datum": 0.001426}, "text": {"field": "lab"}}}
 ]
},
{"data": {"values": [{}]},
 "mark": {"type": "text", "fontSize": 31, "align": "left", "baseline": "top", "color": "black"},
 "encoding": {"x": {"datum": -1.6}, "y": {"datum": 6237}, "text": {"value": "B"}}
}
]
},
{
"width": 511, "height": 225.5,
"layer": [
{"data": {"name": "ptsC"},
 "transform": [
  {"calculate": "log(datum.v)/LN10", "as": "lv"},
  {"calculate": "datum.v > 10 ? 1.259 + (datum.lv - 1) * 0.233 : datum.lv", "as": "py"},
  {"calculate": "floor(datum.lv/0.15)", "as": "bn"},
  {"window": [{"op": "row_number", "as": "r"}], "groupby": ["g", "bn"], "sort": [{"field": "v", "order": "ascending"}]},
  {"calculate": "ceil((datum.r - 1)/2)", "as": "m"},
  {"calculate": "datum.g + ((datum.r - 1) % 2 == 0 ? 1 : -1) * ((datum.m % 4) + (floor(datum.m / 4) % 2) * 0.5) * 0.1", "as": "xo"}
 ],
 "mark": {"type": "point", "shape": "diamond", "filled": false, "size": 70, "strokeWidth": 1.6, "opacity": 1},
 "encoding": {
  "x": {"field": "xo", "type": "quantitative", "scale": {"domain": [-0.677, 4.743], "nice": false, "zero": false},
   "axis": {"title": null, "values": [0,1,2,3,4], "labelExpr": "['Healthy','No SA Infection','SA Infection','Elective','SA Infection'][datum.value]", "labelFontSize": 13.5, "labelFontWeight": "bold", "labelPadding": 6, "tickSize": 5, "tickWidth": 2, "domainWidth": 2.5, "labelOverlap": false, "labelFlush": false, "grid": false}},
  "y": {"field": "py", "type": "quantitative", "scale": {"domain": [-2, 1.5], "nice": false, "zero": false},
   "axis": {"title": "NAb / IgG Ratio", "titleFontSize": 18, "titleFontWeight": "bold", "titlePadding": 16, "domain": false, "tickCount": 100, "values": [-2,-1.69897,-1.52288,-1.39794,-1.30103,-1.22185,-1.1549,-1.09691,-1.04576,-1,-0.69897,-0.52288,-0.39794,-0.30103,-0.22185,-0.1549,-0.09691,-0.04576,0,0.30103,0.47712,0.60206,0.69897,0.77815,0.8451,0.90309,0.95424,1,1.259,1.492], "labelExpr": "datum.value > 1.4 ? '100' : datum.value > 1.2 ? '10' : (abs(datum.value - round(datum.value)) < 0.0001 ? format(pow(10, datum.value), '~g') : '')", "labelOverlap": false, "labelFontSize": {"condition": {"test": "datum.value > 1.2", "value": 12.5}, "value": 15}, "labelFontWeight": "bold", "labelPadding": 3, "tickSize": 4, "tickWidth": 1.5, "minExtent": 36, "maxExtent": 36, "grid": false}},
  "color": {"field": "g", "type": "nominal", "scale": {"domain": [0,1,2,3,4], "range": ["#5e5e5e", "#f7a03c", "#ff6a10", "#e8272f", "#a3161d"]}, "legend": null}
 }
},
{"data": {"name": "ebC"},
 "transform": [{"calculate": "datum.g - 0.32", "as": "xl"}, {"calculate": "datum.g + 0.32", "as": "xr"}, {"calculate": "log(datum.m)/LN10", "as": "lm"}],
 "mark": {"type": "rule", "strokeWidth": 3, "color": "black"},
 "encoding": {"x": {"field": "xl", "type": "quantitative"}, "x2": {"field": "xr"}, "y": {"field": "lm", "type": "quantitative"}}
},
{"data": {"name": "ebC"},
 "transform": [{"calculate": "log(datum.lo)/LN10", "as": "llo"}, {"calculate": "log(datum.hi)/LN10", "as": "lhi"}],
 "mark": {"type": "rule", "strokeWidth": 2.5, "color": "black"},
 "encoding": {"x": {"field": "g", "type": "quantitative"}, "y": {"field": "llo", "type": "quantitative"}, "y2": {"field": "lhi"}}
},
{"data": {"name": "ebC"},
 "transform": [{"fold": ["lo", "hi"], "as": ["k", "cv"]}, {"calculate": "log(datum.cv)/LN10", "as": "lcv"}, {"calculate": "datum.g - 0.17", "as": "cl"}, {"calculate": "datum.g + 0.17", "as": "cr"}],
 "mark": {"type": "rule", "strokeWidth": 2.5, "color": "black"},
 "encoding": {"x": {"field": "cl", "type": "quantitative"}, "x2": {"field": "cr"}, "y": {"field": "lcv", "type": "quantitative"}}
},
{"data": {"name": "sigC"},
 "transform": [
  {"calculate": "datum.x1 == 0 ? -0.1 : datum.x1", "as": "lx1"},
  {"calculate": "datum.x2 - 0.02", "as": "lx2"},
  {"calculate": "datum.x2 - datum.x1 > 1 ? datum.lx1 + 0.13 + 0.035 * length(datum.s) : (datum.x1 + datum.x2) / 2", "as": "sx"}
 ],
 "layer": [
  {"mark": {"type": "rule", "strokeWidth": 1.6, "color": "black"}, "encoding": {"x": {"field": "lx1", "type": "quantitative"}, "x2": {"field": "lx2"}, "y": {"field": "y", "type": "quantitative"}}},
  {"mark": {"type": "text", "fontSize": 14, "baseline": "alphabetic", "dy": 3, "align": "center", "color": "black"}, "encoding": {"x": {"field": "sx", "type": "quantitative"}, "y": {"field": "y", "type": "quantitative"}, "text": {"field": "s"}}}
 ]
},
{"data": {"name": "grp"},
 "transform": [{"calculate": "datum.a - 0.09", "as": "rx1"}, {"calculate": "datum.b + 0.12", "as": "rx2"}, {"calculate": "(datum.a + datum.b)/2 + 0.04", "as": "tx"}],
 "layer": [
  {"mark": {"type": "rule", "strokeWidth": 1.6, "color": "black"}, "encoding": {"x": {"field": "rx1", "type": "quantitative"}, "x2": {"field": "rx2"}, "y": {"datum": -2.455}}},
  {"mark": {"type": "text", "fontSize": 15, "fontWeight": "bold", "baseline": "middle", "align": "center", "color": "black"}, "encoding": {"x": {"field": "tx", "type": "quantitative"}, "y": {"datum": -2.59}, "text": {"field": "lab"}}}
 ]
},
{"data": {"values": [{}]},
 "mark": {"type": "rule", "strokeWidth": 2.5, "color": "black"},
 "encoding": {"x": {"datum": -0.677}, "y": {"datum": -2}, "y2": {"datum": 1}}
},
{"data": {"values": [{}]},
 "mark": {"type": "rule", "strokeWidth": 3.5, "color": "black"},
 "encoding": {"x": {"datum": -0.677}, "y": {"datum": 1.259}, "y2": {"datum": 1.492}}
},
{"data": {"values": [{}]},
 "mark": {"type": "text", "fontSize": 31, "align": "left", "baseline": "top", "color": "black"},
 "encoding": {"x": {"datum": -1.6}, "y": {"datum": 1.886}, "text": {"value": "C"}}
}
]
}
],
"config": {
 "view": {"stroke": null},
 "font": "Liberation Sans",
 "axis": {"grid": false, "domainColor": "black", "tickColor": "black", "labelColor": "black", "titleColor": "black", "labelFont": "Liberation Sans", "titleFont": "Liberation Sans"},
 "text": {"font": "Liberation Sans"}
}
}
